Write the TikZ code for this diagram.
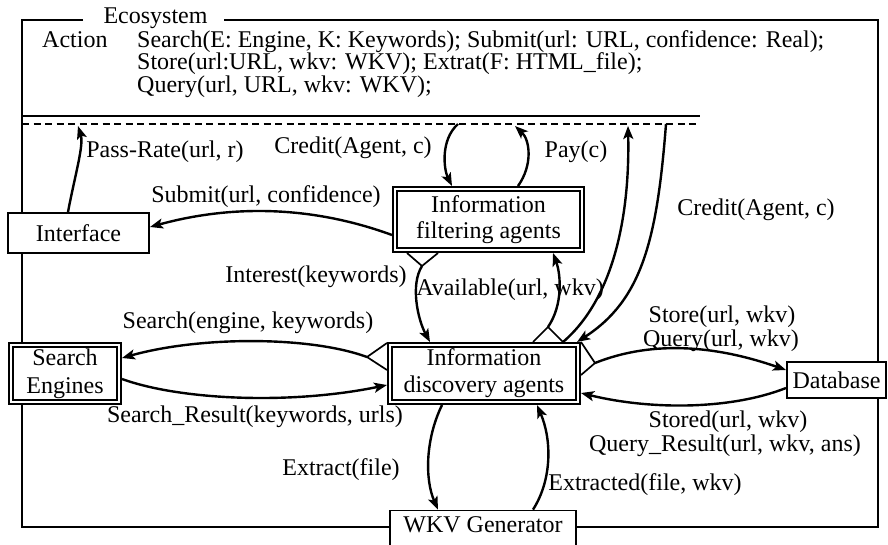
\documentclass[tikz,border=0pt]{standalone}
\usepackage{fontspec}
\setmainfont{Liberation Serif}
\usetikzlibrary{arrows.meta,calc}
\begin{document}
\begin{tikzpicture}[x=1pt,y=-1pt,
  every node/.style={font=\fontsize{24}{26}\selectfont, inner sep=0pt},
  sbox/.style={draw, line width=1.8pt, fill=white, align=center},
  dbox/.style={draw, line width=1.9pt, double, double distance=2.2pt, fill=white, align=center, outer sep=3pt},
  arr/.style={line width=2.4pt, -{Stealth[length=13pt,width=10pt,inset=3pt]}},
  frame/.style={line width=1.9pt},
  notch/.style={line width=1.7pt}
]
\clip (0,0) rectangle (888,544);
\fill[white] (0,0) rectangle (888,544);

% ecosystem frame
\draw[frame] (83,20) -- (22,20) -- (22,527) -- (878,527) -- (878,20) -- (224,20);
\node[anchor=base] (eco) at (155.5,23) {Ecosystem};

% action block
\node[anchor=base west] (act) at (42,47) {Action};
\node[anchor=base west] (a1) at (137,47) {Search(E: Engine, K: Keywords); Submit(url: URL, confidence: Real);};
\node[anchor=base west] (a2) at (137,69.5) {Store(url:URL, wkv: WKV); Extrat(F: HTML\_file);};
\node[anchor=base west] (a3) at (137,92) {Query(url, URL, wkv: WKV);};

\draw[frame] (22,116) -- (700,116);
\draw[frame, dash pattern=on 7pt off 4.5pt] (22,124) -- (700,124);

\coordinate (cPR) at (78,126);
\coordinate (cCrA) at (458,124);
\coordinate (cPay) at (515,126);
\coordinate (cUp) at (628,126);
\coordinate (cCrB) at (666,124);

% boxes
\node[sbox, minimum width=141.2pt, minimum height=40.2pt] (iface) at (78.5,233) {Interface};
\node[dbox, minimum width=187pt, minimum height=61pt, font=\fontsize{24}{26}\selectfont] (ifa) at (488.5,219.5) {Information\\filtering agents};
\node[dbox, minimum width=188pt, minimum height=57pt, font=\fontsize{24}{27}\selectfont] (ida) at (484,373.5) {Information\\discovery agents};
\node[dbox, minimum width=108pt, minimum height=57pt, font=\fontsize{24}{28}\selectfont] (se) at (65,373.5) {Search\\Engines};
\node[sbox, minimum width=99.2pt, minimum height=36.2pt] (db) at (836.5,380) {Database};
\node[sbox, minimum width=186.2pt, minimum height=39pt, text depth=10pt] (wkv) at (483,530) {WKV Generator};

% notches
\coordinate (nI) at ($(ifa.south west)+(30,13)$);
\draw[notch] ($(ifa.south west)+(15,0)$) -- (nI) -- ($(ifa.south west)+(46,0)$);
\coordinate (nA) at ($(ida.north west)+(161,-15)$);
\coordinate (nB) at ($(ida.north west)+(176,0)$);
\draw[notch] ($(ida.north west)+(146,0)$) -- (nA) -- (nB);
\coordinate (nS) at ($(ida.north west)+(-20,15)$);
\draw[notch] ($(ida.north west)+(0,1)$) -- (nS) -- ($(ida.north west)+(0,28)$);
\coordinate (nD) at ($(ida.north east)+(14,21)$);
\draw[notch] (ida.north east) -- (nD) -- ($(ida.north east)+(0,33)$);

% arrows
\draw[arr] ([xshift=-10.5pt]iface.north) .. controls (75,175) and (84,145) .. (cPR);
\draw[arr] (cCrA) .. controls (440,140) and (444,170) .. ([xshift=-36.5pt]ifa.north);
\draw[arr] ([xshift=29.5pt]ifa.north) .. controls (533,165) and (530,140) .. (cPay);
\draw[arr] ([yshift=-15.5pt]ifa.west) .. controls (310,205) and (230,205) .. ([yshift=6pt]iface.east);
\draw[arr] (nI) .. controls (410,285) and (418,320) .. ([xshift=-54pt]ida.north);
\draw[arr] (nA) .. controls (563,305) and (561,275) .. ([xshift=64.5pt]ifa.south);
\draw[arr] (nB) .. controls (612,300) and (630,220) .. (cUp);
\draw[arr] (cCrB) .. controls (657,240) and (642,300) .. ([xshift=-4pt]ida.north east);
\draw[arr] (nS) .. controls (310,336) and (200,336) .. ([yshift=15.5pt]se.east);
\draw[arr] ([yshift=-5.5pt]se.east) .. controls (180,400) and (290,405) .. ([yshift=-11.5pt]ida.west);
\draw[arr] (nD) .. controls (640,345) and (700,340) .. ([yshift=10pt]db.west);
\draw[arr] ([yshift=-8pt]db.west) .. controls (730,410) and (650,410) .. ([yshift=-19.5pt]ida.east);
\draw[arr] ([xshift=-42pt]ida.south) .. controls (425,440) and (425,480) .. ([xshift=-45pt]wkv.north);
\draw[arr] ([xshift=50pt]wkv.north) .. controls (552,480) and (552,440) .. ([xshift=53pt]ida.south);

% labels
\node (lPR) at (165,152) {Pass-Rate(url, r)};
\node (lCrA) at (353,148) {Credit(Agent, c)};
\node (lPay) at (576,152) {Pay(c)};
\node (lSub) at (266,197) {Submit(url, confidence)};
\node (lCrB) at (756,210) {Credit(Agent, c)};
\node (lInt) at (316,277) {Interest(keywords)};
\node (lAv) at (510,290) {Available(url, wkv)};
\node (lSe) at (248,323) {Search(engine, keywords)};
\node (lSt) at (722,317) {Store(url, wkv)};
\node (lQu) at (721,341) {Query(url, wkv)};
\node (lSR) at (255,417) {Search\_Result(keywords, urls)};
\node (lSd) at (728,422) {Stored(url, wkv)};
\node (lQR) at (725,446) {Query\_Result(url, wkv, ans)};
\node (lEx) at (341,470) {Extract(file)};
\node (lExd) at (645,485) {Extracted(file, wkv)};
\end{tikzpicture}
\end{document}
